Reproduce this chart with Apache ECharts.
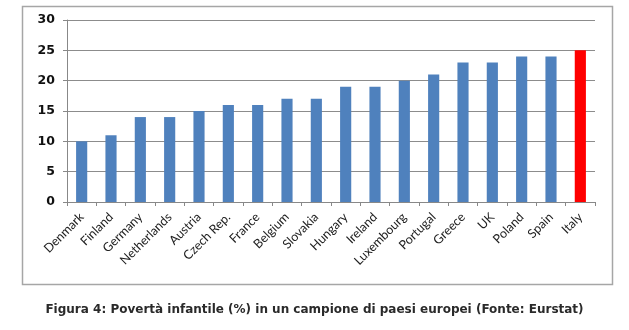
<!DOCTYPE html>
<html><head><meta charset="utf-8">
<script src="https://cdn.jsdelivr.net/npm/echarts@6/dist/echarts.min.js"></script>
<style>html,body{margin:0;padding:0;background:#fff}#c{width:629px;height:330px}</style>
</head><body><div id="c"></div>
<script>
const categories = ["Denmark","Finland","Germany","Netherlands","Austria","Czech Rep.","France","Belgium","Slovakia","Hungary","Ireland","Luxembourg","Portugal","Greece","UK","Poland","Spain","Italy"];
const values = [10,11,14,14,15,16,16,17,17,19,19,20,21,23,23,24,24,25];
const highlight = "Italy";
const caption = "Figura 4: Povertà infantile (%) in un campione di paesi europei (Fonte: Eurstat)";

const chart = echarts.init(document.getElementById('c'), null, {renderer:'canvas'});
chart.setOption({
  animation:false,
  graphic:[{type:'rect',shape:{x:22.5,y:6.5,width:590,height:278},style:{fill:'none',stroke:'#a6a6a6',lineWidth:1.5}}],
  title:{text:caption,left:'center',top:299,textStyle:{fontFamily:'DejaVu Sans',fontSize:12,fontWeight:'bold',color:'#2a2a2a'}},
  grid:{left:67,right:34,top:20,bottom:128},
  xAxis:{type:'category',data:categories,
    axisLine:{lineStyle:{color:'#888',width:1}},
    axisTick:{show:true,alignWithLabel:false,length:4,lineStyle:{color:'#888'}},
    axisLabel:{rotate:45,interval:0,fontFamily:'Lato',fontSize:12.5,color:'#222',margin:13}},
  yAxis:{type:'value',min:0,max:30,interval:5,
    axisLine:{show:true,lineStyle:{color:'#888'}},
    axisTick:{show:true,inside:false,length:4,lineStyle:{color:'#888'}},
    splitLine:{lineStyle:{color:'#8c8c8c',width:1}},
    axisLabel:{fontFamily:'DejaVu Sans',fontWeight:'bold',fontSize:12.5,color:'#111',margin:12}},
  series:[{type:'bar',barWidth:'38%',
    data:values.map((v,i)=>({value:v,itemStyle:{color:categories[i]===highlight?'#ff0000':'#4f81bd'}}))}]
});
</script></body></html>
